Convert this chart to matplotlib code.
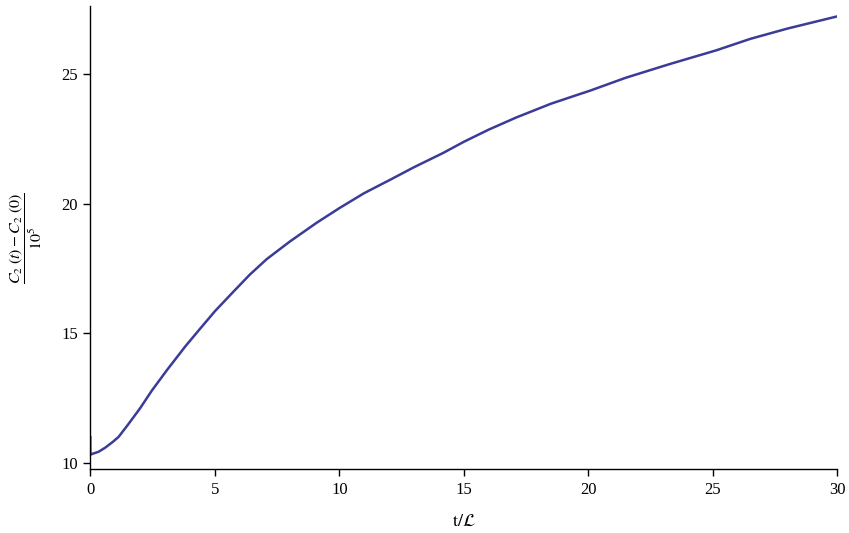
import matplotlib
matplotlib.use("Agg")
import matplotlib.pyplot as plt
import numpy as np

# values
t_vals = [0.0, 0.0, 0.05, 0.33, 0.6, 0.9, 1.14, 1.5, 2.0, 2.47, 3.1, 3.81,
          4.41, 5.01, 5.75, 6.4, 7.08, 8.01, 9.08, 10.0, 11.0, 12.03, 13.0,
          14.17, 15.0, 16.0, 17.11, 18.5, 19.65, 20.06, 21.5, 23.27, 25.14,
          26.5, 28.0, 30.0]
c2_vals = [10.98, 10.3, 10.33, 10.42, 10.58, 10.8, 11.0, 11.45, 12.1, 12.78,
           13.6, 14.48, 15.17, 15.85, 16.6, 17.25, 17.85, 18.53, 19.25, 19.82,
           20.4, 20.91, 21.4, 21.95, 22.38, 22.85, 23.32, 23.85, 24.22, 24.35,
           24.85, 25.38, 25.91, 26.35, 26.75, 27.22]

plt.rcParams['mathtext.fontset'] = 'stix'
plt.rcParams['font.family'] = ['Liberation Serif', 'DejaVu Serif']

fig = plt.figure(figsize=(8.49, 5.33), dpi=100)
ax = fig.add_axes([90.3 / 849, 1 - 469.3 / 533, (837.3 - 90.3) / 849, (469.3 - 6) / 533])

ax.plot(t_vals, c2_vals, color='#3b3b98', lw=1.8, solid_joinstyle='round')

ax.set_xlim(0, 30)
ax.set_ylim(9.745, 27.62)
ax.set_xticks([0, 5, 10, 15, 20, 25, 30])
ax.set_yticks([10, 15, 20, 25])

for s in ['top', 'right']:
    ax.spines[s].set_visible(False)
for s in ['left', 'bottom']:
    ax.spines[s].set_linewidth(1.0)

ax.tick_params(direction='out', length=5, width=1.0, labelsize=12, pad=4)

ax.set_xlabel(r'$\mathrm{t}/\mathcal{L}$', fontsize=13, labelpad=11)
ax.set_ylabel(r'$\dfrac{C_2\;(t) - C_2\;(0)}{10^5}$', fontsize=11.5, labelpad=12)

fig.savefig('out.png', dpi=100)
